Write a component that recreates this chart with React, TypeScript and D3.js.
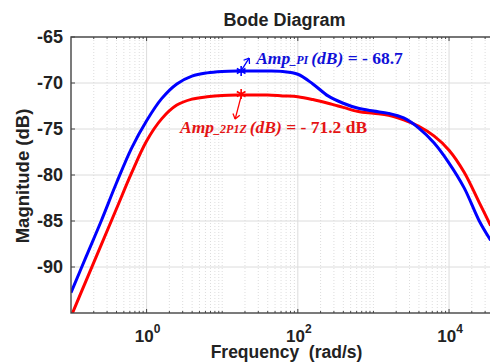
import { useRef, useEffect } from "react";
import * as d3 from "d3";

// frequencies (rad/s), ~0.2 decade apart
const freqs = [
  0.1, 0.158, 0.251, 0.398, 0.631, 1, 1.58, 2.51, 3.98, 6.31, 10, 15.8, 25.1,
  39.8, 63.1, 100, 158, 251, 398, 631, 1000, 1585, 2512, 3981, 6310, 10000,
  15850, 25120, 35480,
];
const ampPIdB = [
  -92.8, -88.9, -85.0, -80.9, -77.1, -74.1, -71.7, -70.1, -69.25, -68.9, -68.75,
  -68.7, -68.7, -68.7, -68.75, -69.05, -70.1, -71.4, -72.2, -72.75, -73.05,
  -73.3, -73.8, -74.9, -76.5, -78.7, -81.4, -85.0, -87.1,
];
const amp2P1ZdB = [
  -95.4, -91.5, -87.6, -83.7, -79.8, -76.3, -73.9, -72.4, -71.75, -71.5, -71.35,
  -71.3, -71.3, -71.3, -71.4, -71.5, -71.8, -72.2, -72.65, -73.1, -73.3, -73.5,
  -74.0, -74.7, -75.75, -77.3, -79.7, -83.0, -85.5,
];
const yTicks = [-90, -85, -80, -75, -70, -65];
const xTickExps = [0, 2, 4];
const peakFreq = 17.8;
const ampPI = -68.7;
const amp2P1Z = -71.2;

const width = 490;
const height = 362;
const plot = { left: 71, top: 37, right: 494.4, bottom: 313 };
const BLUE = "#0000ff";
const RED = "#ff0000";

const BodeChart = () => {
  const svgRef = useRef<SVGSVGElement>(null);

  useEffect(() => {
    const svg = d3.select(svgRef.current);
    svg.selectAll("*").remove();

    const x = d3
      .scaleLog()
      .domain([0.1, Math.pow(10, 4.6)])
      .range([plot.left, plot.right]);
    const y = d3.scaleLinear().domain([-95, -65]).range([plot.bottom, plot.top]);

    svg
      .append("rect")
      .attr("width", width)
      .attr("height", height)
      .attr("fill", "#fff");

    svg
      .append("clipPath")
      .attr("id", "plotclip")
      .append("rect")
      .attr("x", plot.left)
      .attr("y", plot.top)
      .attr("width", plot.right - plot.left)
      .attr("height", plot.bottom - plot.top);

    // minor (dotted) and major (solid) grid
    const minor: number[] = [];
    const major: number[] = [];
    for (let e = -1; e <= 4; e++) {
      for (let k = 1; k <= 9; k++) {
        const v = k * Math.pow(10, e);
        if (k === 1 && xTickExps.includes(e)) major.push(v);
        else if (v > 0.1) minor.push(v);
      }
    }
    const grid = svg.append("g");
    grid
      .selectAll("line.minor")
      .data(minor)
      .enter()
      .append("line")
      .attr("x1", (d) => x(d))
      .attr("x2", (d) => x(d))
      .attr("y1", plot.top)
      .attr("y2", plot.bottom)
      .attr("stroke", "#d4d4d4")
      .attr("stroke-width", 0.8)
      .attr("stroke-dasharray", "1,2");
    grid
      .selectAll("line.majorx")
      .data(major)
      .enter()
      .append("line")
      .attr("x1", (d) => x(d))
      .attr("x2", (d) => x(d))
      .attr("y1", plot.top)
      .attr("y2", plot.bottom)
      .attr("stroke", "#dcdcdc")
      .attr("stroke-width", 1);
    grid
      .selectAll("line.majory")
      .data(yTicks)
      .enter()
      .append("line")
      .attr("x1", plot.left)
      .attr("x2", plot.right)
      .attr("y1", (d) => y(d))
      .attr("y2", (d) => y(d))
      .attr("stroke", "#dcdcdc")
      .attr("stroke-width", 1);

    // curves
    const line = d3
      .line<[number, number]>()
      .x((d) => x(d[0]))
      .y((d) => y(d[1]))
      .curve(d3.curveCatmullRom.alpha(0.5));
    const curves = svg.append("g").attr("clip-path", "url(#plotclip)");
    curves
      .append("path")
      .datum(freqs.map((f, i) => [f, amp2P1ZdB[i]] as [number, number]))
      .attr("d", line)
      .attr("fill", "none")
      .attr("stroke", RED)
      .attr("stroke-width", 3);
    curves
      .append("path")
      .datum(freqs.map((f, i) => [f, ampPIdB[i]] as [number, number]))
      .attr("d", line)
      .attr("fill", "none")
      .attr("stroke", BLUE)
      .attr("stroke-width", 3);

    // axes box + inward ticks
    const ax = svg.append("g").attr("stroke", "#444").attr("fill", "none");
    ax.append("rect")
      .attr("x", plot.left)
      .attr("y", plot.top)
      .attr("width", plot.right - plot.left)
      .attr("height", plot.bottom - plot.top)
      .attr("stroke-width", 1.4);
    yTicks.forEach((t) => {
      ax.append("line")
        .attr("x1", plot.left)
        .attr("x2", plot.left + 4)
        .attr("y1", y(t))
        .attr("y2", y(t));
    });
    major.concat(minor).forEach((v) => {
      const len = major.includes(v) ? 4 : 2;
      ax.append("line")
        .attr("x1", x(v))
        .attr("x2", x(v))
        .attr("y1", plot.bottom)
        .attr("y2", plot.bottom - len);
      ax.append("line")
        .attr("x1", x(v))
        .attr("x2", x(v))
        .attr("y1", plot.top)
        .attr("y2", plot.top + len);
    });

    const sans = "Liberation Sans, Arial, sans-serif";
    const serif = "Liberation Serif, Times New Roman, serif";

    // tick labels
    svg
      .append("g")
      .selectAll("text")
      .data(yTicks)
      .enter()
      .append("text")
      .attr("x", 63)
      .attr("y", (d) => y(d))
      .attr("dy", "0.36em")
      .attr("text-anchor", "end")
      .attr("font-family", sans)
      .attr("font-weight", "bold")
      .attr("font-size", 18)
      .attr("fill", "#222")
      .text((d) => d);

    const xl = svg
      .append("g")
      .selectAll("text")
      .data(xTickExps)
      .enter()
      .append("text")
      .attr("x", (d) => x(Math.pow(10, d)) + 1)
      .attr("y", 342)
      .attr("text-anchor", "middle")
      .attr("font-family", sans)
      .attr("font-weight", "bold")
      .attr("font-size", 17)
      .attr("fill", "#222");
    xl.append("tspan").text("10");
    xl.append("tspan")
      .attr("dy", -9)
      .attr("font-size", 12)
      .text((d) => d);

    // title and axis labels
    svg
      .append("text")
      .attr("x", 284.5)
      .attr("y", 26)
      .attr("text-anchor", "middle")
      .attr("font-family", sans)
      .attr("font-weight", "bold")
      .attr("font-size", 18)
      .attr("fill", "#222")
      .text("Bode Diagram");
    svg
      .append("text")
      .attr("x", 286.5)
      .attr("y", 357.5)
      .attr("text-anchor", "middle")
      .attr("font-family", sans)
      .attr("font-weight", "bold")
      .attr("font-size", 17.5)
      .attr("fill", "#222")
      .style("white-space", "pre")
      .text("Frequency  (rad/s)");
    svg
      .append("text")
      .attr("transform", "translate(29,176) rotate(-90)")
      .attr("text-anchor", "middle")
      .attr("font-family", sans)
      .attr("font-weight", "bold")
      .attr("font-size", 18.5)
      .attr("fill", "#222")
      .text("Magnitude (dB)");

    // data tips
    const arrow = (x0: number, y0: number, x1: number, y1: number, c: string) => {
      const g = svg.append("g").attr("stroke", c).attr("stroke-width", 1.3).attr("fill", "none");
      g.append("line").attr("x1", x0).attr("y1", y0).attr("x2", x1).attr("y2", y1);
      const a = Math.atan2(y1 - y0, x1 - x0);
      const h = 6;
      [a + Math.PI * 0.8, a - Math.PI * 0.8].forEach((b) => {
        g.append("line")
          .attr("x1", x1)
          .attr("y1", y1)
          .attr("x2", x1 + h * Math.cos(b))
          .attr("y2", y1 + h * Math.sin(b));
      });
    };
    const star = (px: number, py: number, c: string) => {
      svg
        .append("path")
        .attr("transform", `translate(${px},${py})`)
        .attr("d", d3.symbol(d3.symbolAsterisk, 70)())
        .attr("fill", "none")
        .attr("stroke", c)
        .attr("stroke-width", 1.6);
    };

    const bx = x(peakFreq);
    const by = y(ampPI);
    const ry = y(amp2P1Z);
    arrow(bx + 1, by - 2, bx + 8, by - 13, BLUE);
    arrow(bx, ry + 2, bx - 6, ry + 25, RED);
    star(bx, by, BLUE);
    star(bx, ry, RED);

    const label = (
      lx: number,
      ly: number,
      c: string,
      sub: string,
      rest: string
    ) => {
      const t = svg
        .append("text")
        .attr("x", lx)
        .attr("y", ly)
        .attr("font-family", serif)
        .attr("font-weight", "bold")
        .attr("font-size", 17.5)
        .attr("fill", c)
        .style("white-space", "pre");
      t.append("tspan").attr("font-style", "italic").text("Amp");
      t.append("tspan").attr("font-style", "italic").attr("font-size", 12).text(sub + " ");
      t.append("tspan").attr("font-style", "italic").text("(dB)");
      t.append("tspan").text(rest);
    };
    label(bx + 15, by - 7.5, "#1010d8", "_PI", " = - " + Math.abs(ampPI));
    label(180, ry + 39, "#e41414", "_2P1Z", " = - " + Math.abs(amp2P1Z) + " dB");
  }, []);

  return (
    <svg
      ref={svgRef}
      width={width}
      height={height}
      style={{ position: "absolute", left: 0, top: 0 }}
    ></svg>
  );
};

export default function App() {
  return <BodeChart />;
}
